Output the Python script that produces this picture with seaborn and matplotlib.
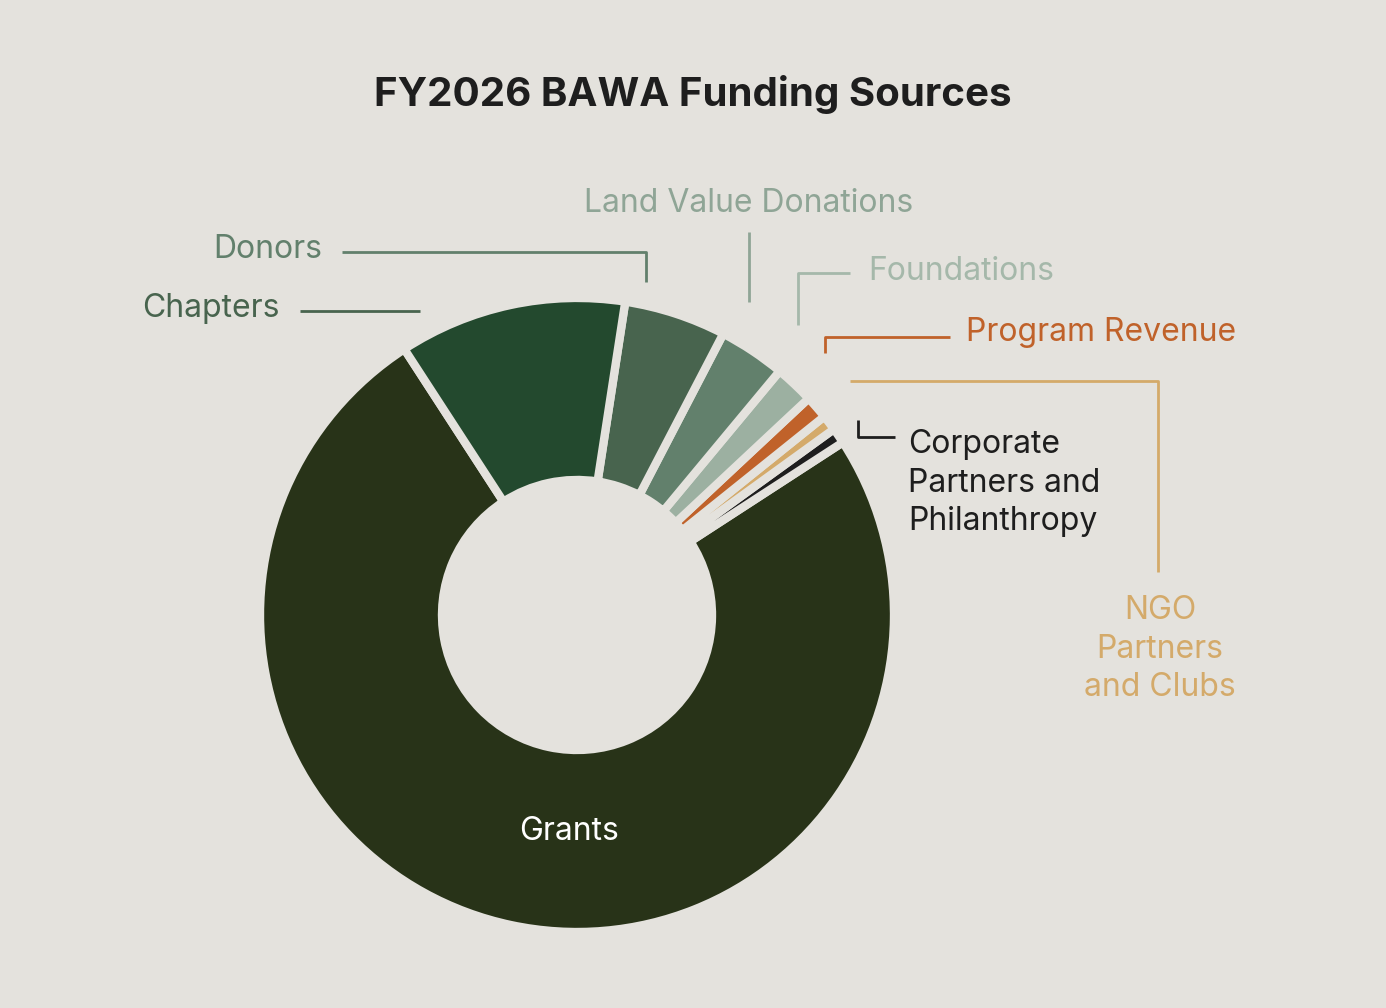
import matplotlib
matplotlib.use("Agg")
import matplotlib.pyplot as plt
import seaborn as sns

sns.set_theme(style="white")
plt.rcParams['font.family'] = ['Inter', 'DejaVu Sans']

labels = ["Grants", "Corporate Partners and Philanthropy", "NGO Partners and Clubs",
          "Program Revenue", "Foundations", "Land Value Donations", "Donors", "Chapters"]
values = [75.0, 0.8, 0.8, 1.2, 2.0, 3.4, 5.2, 11.6]
colors = ["#283318", "#1e1e1e", "#d4aa6a", "#c0622a", "#9cb0a1", "#62806c", "#48644e", "#23492e"]
BG = "#e4e2dd"

W, H = 1386, 1008
fig = plt.figure(figsize=(W/100, H/100), dpi=100, facecolor=BG)
ax = fig.add_axes([0, 0, 1, 1])
ax.set_facecolor(BG)

def Y(y): return H - y

cx, cy, R = 577, Y(615), 317
explode = [0, 0.04, 0.04, 0.04, 0.04, 0.04, 0.04, 0.04]
ax.pie(values, colors=colors, startangle=123, counterclock=True, center=(cx, cy), radius=R,
       explode=explode, wedgeprops=dict(width=R-135, edgecolor=BG, linewidth=6), frame=True)
ax.set_xlim(0, W); ax.set_ylim(0, H); ax.axis('off')

fig.text(0.5, 1 - 95/H, "FY2026 BAWA Funding Sources", ha='center', va='center',
         fontsize=29, fontweight='bold', color="#1e1e1e")

fs = 23
def line(pts, c):
    ax.plot([p[0] for p in pts], [Y(p[1]) for p in pts], color=c, lw=2, solid_capstyle='butt')

c = "#62806c"
ax.text(322, Y(250), "Donors", ha='right', va='center', fontsize=fs, color=c)
line([(342, 252), (646, 252), (646, 282)], c)
c = "#48644e"
ax.text(280, Y(309), "Chapters", ha='right', va='center', fontsize=fs, color=c)
line([(300, 311), (420, 311)], c)
c = "#8fa596"
ax.text(749, Y(204), "Land Value Donations", ha='center', va='center', fontsize=fs, color=c)
line([(749, 232), (749, 302)], c)
c = "#a5b8aa"
ax.text(868, Y(272), "Foundations", ha='left', va='center', fontsize=fs, color=c)
line([(850, 273), (798, 273), (798, 325)], c)
c = "#c0622a"
ax.text(966, Y(332), "Program Revenue", ha='left', va='center', fontsize=fs, color=c)
line([(950, 337), (825, 337), (825, 353)], c)
c = "#d4aa6a"
line([(850, 381), (1158, 381), (1158, 572)], c)
ax.text(1160, Y(649), "NGO\nPartners\nand Clubs", ha='center', va='center', fontsize=fs,
        color=c, linespacing=1.3)
c = "#1e1e1e"
line([(858, 420), (858, 437), (895, 437)], c)
ax.text(908, Y(483), "Corporate\nPartners and\nPhilanthropy", ha='left', va='center',
        fontsize=fs, color=c, linespacing=1.3)
ax.text(569, Y(832), "Grants", ha='center', va='center', fontsize=fs, color="white")

fig.savefig("out.png", dpi=100, facecolor=BG)
